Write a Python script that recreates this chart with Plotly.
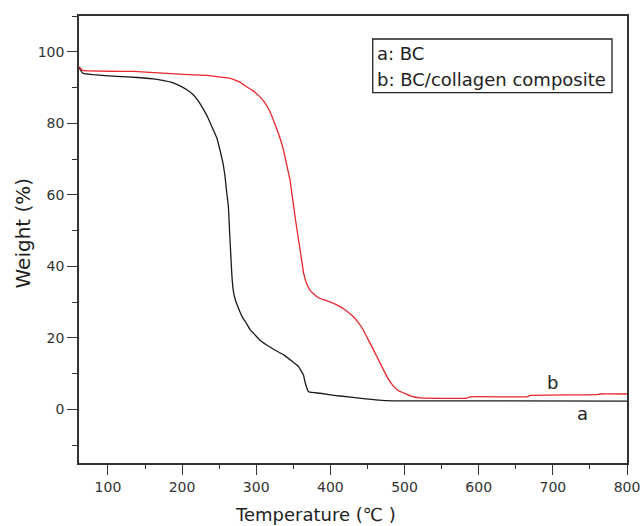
import plotly.graph_objects as go

# Curve a: BC
temp_a = [61, 66, 80, 112, 140, 166, 185, 200, 207, 215, 222, 229, 235, 242, 247, 251, 255,
          258, 260, 262.5, 264, 266, 267, 269, 272, 278, 282, 287, 292, 298.5, 305, 314,
          325, 336.6, 348, 357, 359, 363.6, 366, 370, 372, 386, 410, 444.5, 465, 485, 800]
weight_a = [95.6, 94.0, 93.6, 93.1, 92.8, 92.3, 91.5, 90.2, 89.3, 88.0, 86.2, 83.8, 81.5,
            78.2, 75.8, 72.6, 69.0, 65.0, 61.0, 56.6, 50.0, 42.0, 38.0, 33.3, 30.5, 27.3,
            25.5, 24.0, 22.2, 20.8, 19.3, 18.0, 16.6, 15.3, 13.5, 12.0, 11.3, 9.7, 7.5,
            5.1, 4.8, 4.5, 3.8, 3.0, 2.6, 2.4, 2.3]

# Curve b: BC/collagen composite
temp_b = [61, 66, 134.5, 202, 233, 250, 262, 269, 278, 287, 295, 303, 310, 318, 325.5,
          331, 336.7, 341, 345.6, 349, 352.4, 357, 361.4, 364, 368, 372, 378, 384, 395,
          408.6, 420, 431, 438, 444.5, 451, 458, 465, 471.5, 478, 485, 492, 503, 510, 521,
          584, 588, 665, 669.5, 759, 763.5, 800]
weight_b = [95.8, 94.8, 94.5, 93.7, 93.4, 93.0, 92.7, 92.3, 91.5, 90.2, 89.2, 87.8, 86.2,
            83.5, 79.6, 76.5, 72.6, 68.5, 64.1, 59.0, 53.8, 47.5, 41.6, 38.0, 35.1, 33.5,
            32.2, 31.2, 30.4, 29.2, 27.8, 25.9, 24.2, 22.2, 19.5, 16.7, 13.8, 11.1, 8.5,
            6.5, 5.2, 4.2, 3.6, 3.2, 3.1, 3.5, 3.5, 3.9, 4.1, 4.3, 4.3]

legend_lines = ["a: BC", "b: BC/collagen composite"]
curve_labels = [("b", 699, 7.6), ("a", 740, -1.1)]

FONT = "DejaVu Sans, Liberation Sans, Arial, sans-serif"
AX = "#333333"
TXT = "#222222"

fig = go.Figure()
fig.add_trace(go.Scatter(x=temp_a, y=weight_a, mode="lines",
                         line=dict(color="#1a1a1a", width=1.3, shape="spline", smoothing=0.3),
                         showlegend=False))
fig.add_trace(go.Scatter(x=temp_b, y=weight_b, mode="lines",
                         line=dict(color="#e8262b", width=1.3, shape="spline", smoothing=0.3),
                         showlegend=False))

axis_common = dict(showline=True, linecolor=AX, linewidth=1.5, mirror=True,
                   ticks="outside", tickcolor=AX, tickwidth=1.2, ticklen=10,
                   showgrid=False, zeroline=False, automargin=False,
                   ticklabeloverflow="allow",
                   tickfont=dict(family=FONT, size=14, color="#333333"))

fig.update_xaxes(range=[61, 800], tickvals=[100, 200, 300, 400, 500, 600, 700, 800],
                 minor=dict(dtick=50, tick0=0, ticks="outside", ticklen=4,
                            tickcolor=AX, tickwidth=1.2),
                 **axis_common)
fig.update_yaxes(range=[-15, 110], tickvals=[0, 20, 40, 60, 80, 100],
                 minor=dict(dtick=10, tick0=0, ticks="outside", ticklen=5,
                            tickcolor=AX, tickwidth=1.2),
                 **axis_common)

# axis titles
fig.add_annotation(text="Temperature (℃ )", xref="paper", yref="paper", x=0.4307, y=-0.1163,
                   xanchor="center", yanchor="middle", showarrow=False,
                   font=dict(family=FONT, size=18, color=TXT))
fig.add_annotation(text="Weight (%)", xref="paper", yref="paper", x=-0.103, y=0.5146,
                   xanchor="center", yanchor="middle", showarrow=False, textangle=-90,
                   font=dict(family=FONT, size=20, color=TXT))

# legend-like box
fig.add_shape(type="rect", xref="paper", yref="paper", x0=0.536, x1=0.9726,
              y0=0.8284, y1=0.9485, line=dict(color=TXT, width=1.3))
for i, txt in enumerate(legend_lines):
    fig.add_annotation(text=txt, xref="paper", yref="paper", x=0.541,
                       y=[0.917, 0.859][i], xanchor="left", yanchor="middle",
                       showarrow=False, font=dict(family=FONT, size=18, color=TXT))
for lab, xv, yv in curve_labels:
    fig.add_annotation(text=lab, x=xv, y=yv, showarrow=False,
                       font=dict(family=FONT, size=18, color=TXT))

fig.update_layout(width=640, height=526, margin=dict(l=79, r=13, t=16, b=63),
                  paper_bgcolor="white", plot_bgcolor="white")

fig.write_html("out.html")
